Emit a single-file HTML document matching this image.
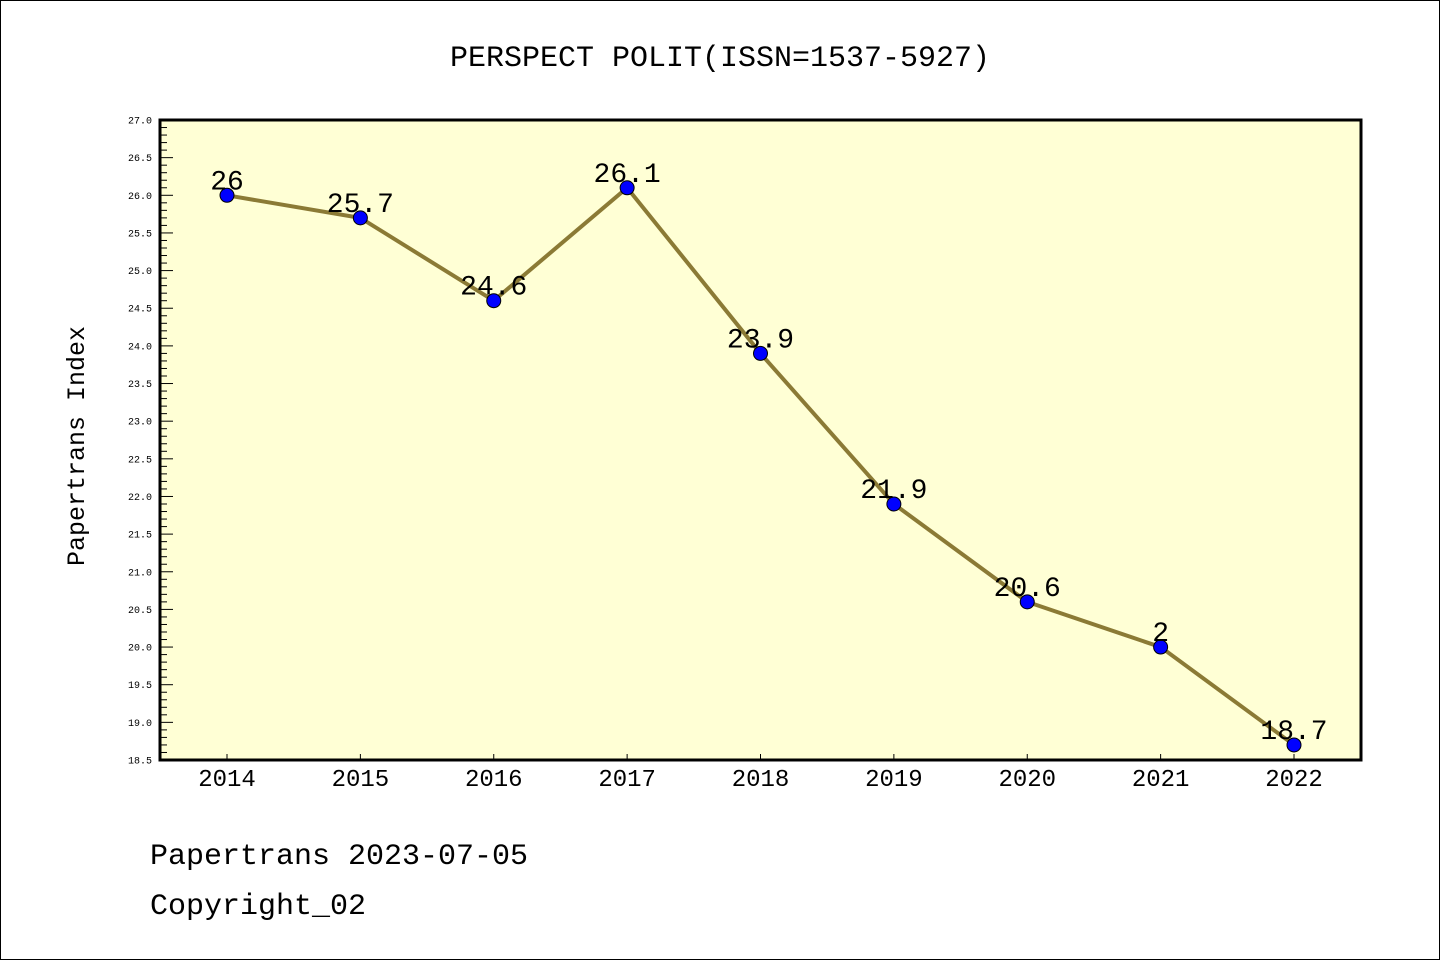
<!DOCTYPE html>
<html><head><meta charset="utf-8"><style>
html,body{margin:0;padding:0;background:#fff}
svg{display:block}
text{font-family:"Liberation Mono","DejaVu Sans Mono",monospace}
</style></head><body>
<svg width="1440" height="960" viewBox="0 0 1440 960">
<rect x="0.5" y="0.5" width="1439" height="959" fill="#fff" stroke="#000"/>
<text x="720" y="66" font-size="30" text-anchor="middle">PERSPECT POLIT(ISSN=1537-5927)</text>
<rect x="160" y="120" width="1201" height="640" fill="#ffffd5"/>
<g id="yaxis"></g>
<g id="xaxis"></g>
<g id="series"></g>
<rect x="160" y="120" width="1201" height="640" fill="none" stroke="#000" stroke-width="3"/>
<text x="84" y="446" font-size="25" text-anchor="middle" transform="rotate(-90 84 446)">Papertrans Index</text>
<text x="150" y="864" font-size="30">Papertrans 2023-07-05</text>
<text x="150" y="914" font-size="30">Copyright_02</text>
</svg>
<script>
const years=["2014","2015","2016","2017","2018","2019","2020","2021","2022"];
const values=[26,25.7,24.6,26.1,23.9,21.9,20.6,20,18.7];
const labels=["26","25.7","24.6","26.1","23.9","21.9","20.6","2","18.7"];
const yTicks=["18.5","19.0","19.5","20.0","20.5","21.0","21.5","22.0","22.5","23.0","23.5","24.0","24.5","25.0","25.5","26.0","26.5","27.0"];
const NS="http://www.w3.org/2000/svg";
const yMin=18.5,yMax=27,yTop=120,yBot=760,xLeft=160;
const yS=v=>yBot-(v-yMin)/(yMax-yMin)*(yBot-yTop);
const xS=i=>227+i*(1294-227)/(years.length-1);
function mk(t,a,p){const e=document.createElementNS(NS,t);for(const k in a)e.setAttribute(k,a[k]);p.appendChild(e);return e;}
const ya=document.getElementById('yaxis'),xa=document.getElementById('xaxis'),sr=document.getElementById('series');
for(let k=0;k<=85;k++){const v=yMin+k*0.1;const major=k%5===0;
 const l=mk('line',{x1:xLeft,x2:xLeft+(major?13:7),y1:yS(v),y2:yS(v),stroke:'#000','stroke-width':1},ya);
 
 }
yTicks.forEach(t=>{const e=mk('text',{x:152,y:yS(parseFloat(t))+3.5,'font-size':10,'text-anchor':'end','font-family':'Liberation Sans, sans-serif'},ya);e.textContent=t;
 
 });
years.forEach((yr,i)=>{const l=mk('line',{x1:xS(i),x2:xS(i),y1:yBot,y2:yBot-6,stroke:'#000'},xa);
 
 
 const t=mk('text',{x:xS(i),y:786,'font-size':24,'text-anchor':'middle','font-family':'Liberation Sans, sans-serif'},xa);t.textContent=yr;
 
 });
const pl=mk('polyline',{points:values.map((v,i)=>xS(i)+','+yS(v)).join(' '),fill:'none',stroke:'#8b7a35','stroke-width':4},sr);


values.forEach((v,i)=>{const c=mk('circle',{cx:xS(i),cy:yS(v),r:7,fill:'#0000ff',stroke:'#000','stroke-width':1},sr);
 
 
 const t=mk('text',{x:xS(i),y:yS(v)-6,'font-size':28,'text-anchor':'middle','font-family':'Liberation Sans, sans-serif'},sr);t.textContent=labels[i];
 
 });
</script>
</body></html>
